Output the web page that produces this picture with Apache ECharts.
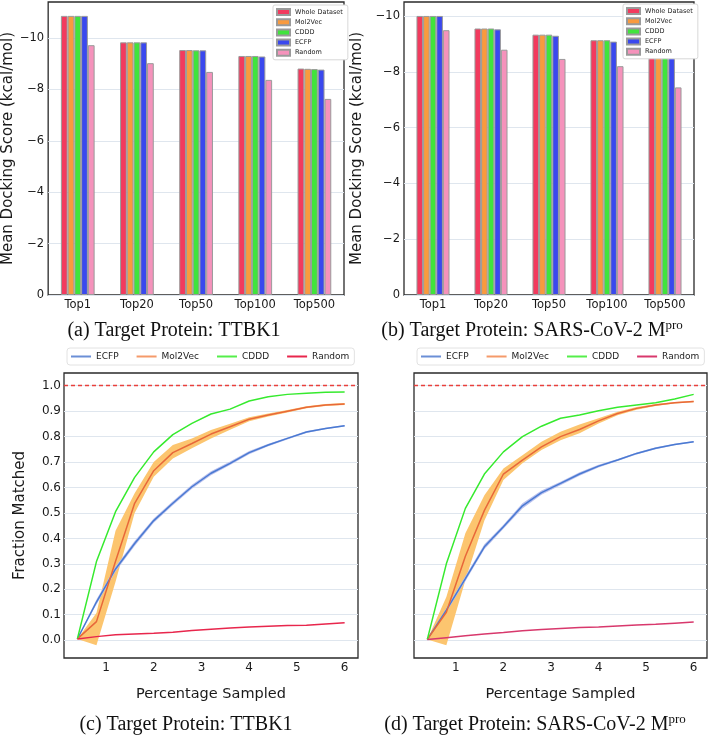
<!DOCTYPE html>
<html>
<head>
<meta charset="utf-8">
<script src="https://cdn.jsdelivr.net/npm/echarts@6/dist/echarts.min.js"></script>
<style>html,body{margin:0;padding:0;background:#fff;}#c{width:709px;height:736px;}</style>
</head>
<body>
<div id="c"></div>
<script>
// ---------- DATA ----------
const barCategories = ['Top1', 'Top20', 'Top50', 'Top100', 'Top500'];
const barSeriesNames = ['Whole Dataset', 'Mol2Vec', 'CDDD', 'ECFP', 'Random'];
// (a) TTBK1 mean docking scores (kcal/mol)
const aWhole  = [-10.86, -9.83, -9.53, -9.30, -8.81];
const aMol2Vec= [-10.86, -9.83, -9.53, -9.30, -8.80];
const aCDDD   = [-10.86, -9.83, -9.52, -9.30, -8.79];
const aECFP   = [-10.86, -9.83, -9.52, -9.28, -8.77];
const aRandom = [-9.72, -9.02, -8.68, -8.37, -7.63];
// (b) SARS-CoV-2 Mpro mean docking scores
const bWhole  = [-10.00, -9.55, -9.33, -9.13, -8.58];
const bMol2Vec= [-10.00, -9.55, -9.33, -9.13, -8.58];
const bCDDD   = [-10.00, -9.55, -9.33, -9.13, -8.57];
const bECFP   = [-10.00, -9.52, -9.29, -9.08, -8.49];
const bRandom = [-9.49, -8.79, -8.46, -8.20, -7.44];
const barTicks = [-10, -8, -6, -4, -2, 0];

// Percentage sampled (x)
const pct = [0.4, 0.8, 1.2, 1.6, 2.0, 2.4, 2.8, 3.2, 3.6, 4.0, 4.4, 4.8, 5.2, 5.6, 6.0];
const xTicks = [1, 2, 3, 4, 5, 6];
const yTicks = [0, 0.1, 0.2, 0.3, 0.4, 0.5, 0.6, 0.7, 0.8, 0.9, 1.0];
const targetFraction = 1.0;
// (c) TTBK1 fraction matched
const cECFP    = [0.005, 0.150, 0.280, 0.380, 0.470, 0.538, 0.603, 0.656, 0.695, 0.737, 0.767, 0.793, 0.818, 0.832, 0.843];
const cECFPLo  = [0.005, 0.140, 0.270, 0.370, 0.462, 0.530, 0.595, 0.648, 0.688, 0.731, 0.762, 0.789, 0.814, 0.829, 0.840];
const cECFPHi  = [0.005, 0.160, 0.290, 0.390, 0.478, 0.546, 0.611, 0.664, 0.702, 0.743, 0.772, 0.797, 0.822, 0.835, 0.846];
const cMol2Vec = [0.005, 0.073, 0.310, 0.538, 0.666, 0.737, 0.773, 0.810, 0.839, 0.868, 0.885, 0.900, 0.915, 0.924, 0.928];
const cMolLo   = [0.005, -0.020, 0.230, 0.500, 0.642, 0.714, 0.754, 0.793, 0.827, 0.860, 0.879, 0.895, 0.911, 0.920, 0.924];
const cMolHi   = [0.005, 0.107, 0.430, 0.577, 0.700, 0.767, 0.793, 0.826, 0.851, 0.876, 0.891, 0.905, 0.919, 0.928, 0.932];
const cCDDD    = [0.005, 0.309, 0.505, 0.640, 0.740, 0.808, 0.852, 0.889, 0.908, 0.940, 0.957, 0.966, 0.970, 0.974, 0.975];
const cRandom  = [0.005, 0.014, 0.021, 0.024, 0.027, 0.031, 0.038, 0.043, 0.048, 0.052, 0.055, 0.058, 0.059, 0.064, 0.069];
// (d) SARS-CoV-2 Mpro fraction matched
const dECFP    = [0.003, 0.118, 0.242, 0.367, 0.446, 0.528, 0.580, 0.616, 0.653, 0.684, 0.708, 0.734, 0.754, 0.769, 0.780];
const dECFPLo  = [0.003, 0.110, 0.232, 0.357, 0.438, 0.518, 0.572, 0.609, 0.646, 0.679, 0.704, 0.730, 0.750, 0.766, 0.777];
const dECFPHi  = [0.003, 0.126, 0.252, 0.377, 0.454, 0.538, 0.588, 0.623, 0.660, 0.689, 0.712, 0.738, 0.758, 0.772, 0.783];
const dMol2Vec = [0.003, 0.110, 0.330, 0.510, 0.653, 0.708, 0.760, 0.800, 0.828, 0.862, 0.891, 0.911, 0.924, 0.933, 0.938];
const dMolLo   = [0.003, -0.020, 0.236, 0.470, 0.630, 0.695, 0.747, 0.786, 0.813, 0.852, 0.884, 0.906, 0.920, 0.930, 0.935];
const dMolHi   = [0.003, 0.170, 0.420, 0.570, 0.675, 0.727, 0.780, 0.819, 0.848, 0.872, 0.898, 0.916, 0.928, 0.936, 0.941];
const dCDDD    = [0.003, 0.300, 0.518, 0.653, 0.740, 0.800, 0.841, 0.872, 0.885, 0.902, 0.915, 0.924, 0.933, 0.948, 0.966];
const dRandom  = [0.003, 0.010, 0.017, 0.024, 0.030, 0.037, 0.042, 0.046, 0.050, 0.052, 0.056, 0.060, 0.063, 0.067, 0.071];

// ---------- STYLE ----------
const barColors = ['#f23a5e', '#f99a3e', '#40e43c', '#3a48ee', '#f592bb'];
const lineColors = { ECFP: '#4a7ad2', Mol2Vec: '#e8683a', CDDD: '#36ea2e', RandomC: '#e8264c', RandomD: '#d8386c' };
const gridColor = '#dfe6ee';
const axisTxt = '#1a1a1a';

const pairs = (xs, ys) => xs.map((x, i) => [x, ys[i]]);
const minus = v => (v === 0 ? '0' : (v < 0 ? '\u2212' + Math.abs(v) : String(v)));

const grids = [
  { left: 45, top: 2, width: 299, height: 293 },
  { left: 404, top: 2, width: 290, height: 293 },
  { left: 64, top: 373, width: 294, height: 285 },
  { left: 414, top: 373, width: 293, height: 285 }
].map(g => Object.assign(g, { show: true, borderColor: '#2a2a2a', borderWidth: 1.3, backgroundColor: 'transparent' }));

function barY(idx, minV, nameGap) {
  return {
    type: 'value', gridIndex: idx, inverse: true, min: minV, max: 0,
    name: 'Mean Docking Score (kcal/mol)', nameLocation: 'middle', nameGap: nameGap,
    nameTextStyle: { fontSize: 15, color: axisTxt },
    axisLine: { show: false },
    axisTick: { show: false, customValues: barTicks },
    axisLabel: { customValues: barTicks, formatter: minus, fontSize: 11.5, color: axisTxt, margin: 4 },
    splitLine: { show: true, lineStyle: { color: gridColor, width: 1 } }
  };
}
function barX(idx) {
  return {
    type: 'category', gridIndex: idx, data: barCategories,
    axisLine: { show: false }, axisTick: { show: false },
    axisLabel: { fontSize: 11.5, color: axisTxt, margin: 4 }
  };
}
function lineX(idx) {
  return {
    type: 'value', gridIndex: idx, min: 0.12, max: 6.28,
    name: 'Percentage Sampled', nameLocation: 'middle', nameGap: 29,
    nameTextStyle: { fontSize: 14.5, color: axisTxt },
    axisLine: { show: false },
    axisTick: { show: false, customValues: xTicks },
    axisLabel: { customValues: xTicks, fontSize: 12, color: axisTxt, margin: 4 },
    splitLine: { show: false }
  };
}
function lineY(idx, showLabels) {
  return {
    type: 'value', gridIndex: idx, min: -0.07, max: 1.05,
    name: showLabels ? 'Fraction Matched' : '', nameLocation: 'middle', nameGap: 36,
    nameTextStyle: { fontSize: 15, color: axisTxt },
    axisLine: { show: false },
    axisTick: { show: false, customValues: yTicks },
    axisLabel: { show: showLabels, customValues: yTicks, formatter: v => v.toFixed(1), fontSize: 12, color: axisTxt, margin: 3 },
    splitLine: { show: true, lineStyle: { color: gridColor, width: 1 } }
  };
}

const series = [];
const aData = [aWhole, aMol2Vec, aCDDD, aECFP, aRandom];
const bData = [bWhole, bMol2Vec, bCDDD, bECFP, bRandom];
[aData, bData].forEach((set, gi) => {
  set.forEach((vals, si) => {
    series.push({
      type: 'bar', name: barSeriesNames[si], xAxisIndex: gi, yAxisIndex: gi, data: vals,
      barGap: '0%', barCategoryGap: '43%',
      itemStyle: { color: barColors[si], borderColor: '#9a9a9a', borderWidth: 1 },
      emphasis: { disabled: true }
    });
  });
});

// confidence band drawn as one polygon through the axis scales
function band(gi, lo, hi, color) {
  series.push({
    type: 'custom', name: 'band', xAxisIndex: gi, yAxisIndex: gi, silent: true, z: 1,
    data: [[pct[0], lo[0]]],
    renderItem: function (params, api) {
      const pts = [];
      for (let i = 0; i < pct.length; i++) pts.push(api.coord([pct[i], hi[i]]));
      for (let i = pct.length - 1; i >= 0; i--) pts.push(api.coord([pct[i], lo[i]]));
      return { type: 'polygon', shape: { points: pts }, style: { fill: color } };
    }
  });
}
function line(gi, name, vals, color, extra) {
  series.push(Object.assign({
    type: 'line', name: name, xAxisIndex: gi, yAxisIndex: gi, data: pairs(pct, vals),
    symbol: 'none', lineStyle: { color: color, width: 1.5 }, itemStyle: { color: color }, z: 3,
    emphasis: { disabled: true }
  }, extra || {}));
}
const target = {
  markLine: {
    symbol: 'none', silent: true, label: { show: false },
    lineStyle: { type: [4, 3], color: '#e8403c', width: 1.3 },
    data: [{ yAxis: targetFraction }]
  }
};
band(2, cMolLo, cMolHi, '#fcc56f');
band(2, cECFPLo, cECFPHi, '#b9c0ee');
line(2, 'ECFP', cECFP, lineColors.ECFP, target);
line(2, 'Mol2Vec', cMol2Vec, lineColors.Mol2Vec);
line(2, 'CDDD', cCDDD, lineColors.CDDD);
line(2, 'Random', cRandom, lineColors.RandomC);
band(3, dMolLo, dMolHi, '#fcc56f');
band(3, dECFPLo, dECFPHi, '#b9c0ee');
line(3, 'ECFP', dECFP, lineColors.ECFP, target);
line(3, 'Mol2Vec', dMol2Vec, lineColors.Mol2Vec);
line(3, 'CDDD', dCDDD, lineColors.CDDD);
line(3, 'Random', dRandom, lineColors.RandomD);

function barLegend(left, top) {
  return {
    left: left, top: top, orient: 'vertical', icon: 'rect',
    itemWidth: 13, itemHeight: 6, itemGap: 2.2, padding: [3, 5, 3, 3],
    backgroundColor: '#fff', borderColor: '#d8d8d8', borderWidth: 1, borderRadius: 2,
    textStyle: { fontSize: 6.5, lineHeight: 7, color: '#222' },
    selectedMode: false,
    data: barSeriesNames
  };
}
function lineLegend(left, randomColor) {
  const legendColors = ['#6b8fd6', '#f59a6a', '#55ee4a', randomColor];
  return {
    left: left, top: 348, orient: 'horizontal', icon: 'rect',
    itemWidth: 20, itemHeight: 2, itemGap: 18, padding: [4, 5, 4, 4],
    backgroundColor: '#fff', borderColor: '#e2e2e2', borderWidth: 1, borderRadius: 3,
    textStyle: { fontSize: 9, color: '#222' },
    itemStyle: { borderWidth: 0 },
    selectedMode: false,
    data: ['ECFP', 'Mol2Vec', 'CDDD', 'Random'].map((n, i) => ({ name: n, itemStyle: { color: legendColors[i], borderWidth: 0 } }))
  };
}

function caption(x, y, text) {
  return {
    type: 'text', x: x, y: y,
    style: { text: text, textAlign: 'center', textVerticalAlign: 'middle',
      fontFamily: 'Liberation Serif', fontSize: 20, fill: '#111',
      rich: { s: { fontFamily: 'Liberation Serif', fontSize: 13, verticalAlign: 'top', lineHeight: 24, padding: [0, 0, 8, 0], fill: '#111' },
              n: { fontFamily: 'Liberation Serif', fontSize: 20, lineHeight: 24, fill: '#111' } } }
  };
}

const chart = echarts.init(document.getElementById('c'), null, { renderer: 'canvas' });
chart.setOption({
  animation: false,
  backgroundColor: '#fff',
  textStyle: { fontFamily: 'DejaVu Sans' },
  grid: grids,
  xAxis: [barX(0), barX(1), lineX(2), lineX(3)],
  yAxis: [barY(0, -11.4, 29), barY(1, -10.5, 39), lineY(2, true), lineY(3, false)],
  legend: [barLegend(273, 5), barLegend(623, 4), lineLegend(67, lineColors.RandomC), lineLegend(417, lineColors.RandomD)],
  series: series,
  graphic: [
    caption(174, 331, '{n|(a) Target Protein: TTBK1}'),
    caption(532, 331, '{n|(b) Target Protein: SARS-CoV-2 M}{s|pro}'),
    caption(186, 725, '{n|(c) Target Protein: TTBK1}'),
    caption(535, 725, '{n|(d) Target Protein: SARS-CoV-2 M}{s|pro}')
  ]
});
</script>
</body>
</html>
